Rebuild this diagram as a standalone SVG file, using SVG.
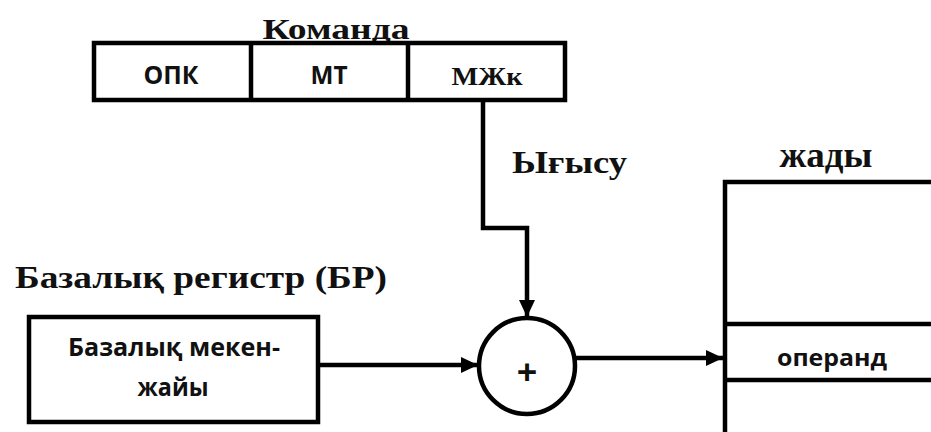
<svg xmlns="http://www.w3.org/2000/svg" width="931" height="432" viewBox="0 0 931 432">
<style>
.ln{fill:none;stroke:#000;stroke-width:4.5}
.bx{fill:#fff;stroke:#000;stroke-width:4.5}
.serif{font-family:"Liberation Serif","Times New Roman",serif;font-weight:bold;fill:#111}
.sans{font-family:"Open Sans","Liberation Sans",sans-serif;font-weight:bold;fill:#111}
</style>
<defs>
<marker id="ah" markerWidth="17" markerHeight="16" refX="17" refY="8" orient="auto" markerUnits="userSpaceOnUse">
<path d="M0,0 L17,8 L0,16 Z" fill="#000"/>
</marker>
</defs>
<rect width="931" height="432" fill="#fff"/>
<g id="command">
<text class="serif" x="336" y="39" font-size="29" text-anchor="middle" textLength="147" lengthAdjust="spacingAndGlyphs">Команда</text>
<rect class="bx" x="94" y="43" width="471" height="57"/>
<line class="ln" x1="251" y1="43" x2="251" y2="100"/>
<line class="ln" x1="408" y1="43" x2="408" y2="100"/>
<text class="sans" x="171" y="84" font-size="25" text-anchor="middle" textLength="55" lengthAdjust="spacingAndGlyphs">ОПК</text>
<text class="sans" x="329" y="84" font-size="25" text-anchor="middle" textLength="37" lengthAdjust="spacingAndGlyphs">МТ</text>
<text class="serif" x="487" y="85" font-size="26" text-anchor="middle" textLength="71" lengthAdjust="spacingAndGlyphs">МЖк</text>
</g>
<g id="offset-label">
<text class="serif" x="512" y="173" font-size="31" textLength="115" lengthAdjust="spacingAndGlyphs">Ығысу</text>
</g>
<g id="base-register">
<text class="serif" x="15" y="288" font-size="32" textLength="372" lengthAdjust="spacingAndGlyphs">Базалық регистр (БР)</text>
<rect class="bx" x="29" y="317" width="289" height="105"/>
<text class="sans" x="174" y="356" font-size="25" text-anchor="middle" textLength="212" lengthAdjust="spacingAndGlyphs">Базалық мекен-</text>
<text class="sans" x="173" y="396" font-size="25" text-anchor="middle" textLength="71" lengthAdjust="spacingAndGlyphs">жайы</text>
</g>
<g id="adder">
<circle class="bx" cx="527" cy="366" r="48"/>
<text class="sans" x="527" y="385" font-size="36" text-anchor="middle">+</text>
</g>
<g id="memory">
<text class="serif" x="826" y="167" font-size="35" text-anchor="middle" textLength="93" lengthAdjust="spacingAndGlyphs">жады</text>
<path class="ln" d="M725,440 L725,182 L935,182"/>
<line class="ln" x1="725" y1="324" x2="935" y2="324"/>
<line class="ln" x1="725" y1="380" x2="935" y2="380"/>
<text class="sans" x="832" y="366" font-size="24" text-anchor="middle" textLength="110" lengthAdjust="spacingAndGlyphs">операнд</text>
</g>
<g id="connectors">
<path class="ln" d="M483,100 L483,228 L527,228 L527,317" marker-end="url(#ah)"/>
<line class="ln" x1="318" y1="365" x2="478" y2="365" marker-end="url(#ah)"/>
<line class="ln" x1="575" y1="358" x2="723" y2="358" marker-end="url(#ah)"/>
</g>
</svg>
